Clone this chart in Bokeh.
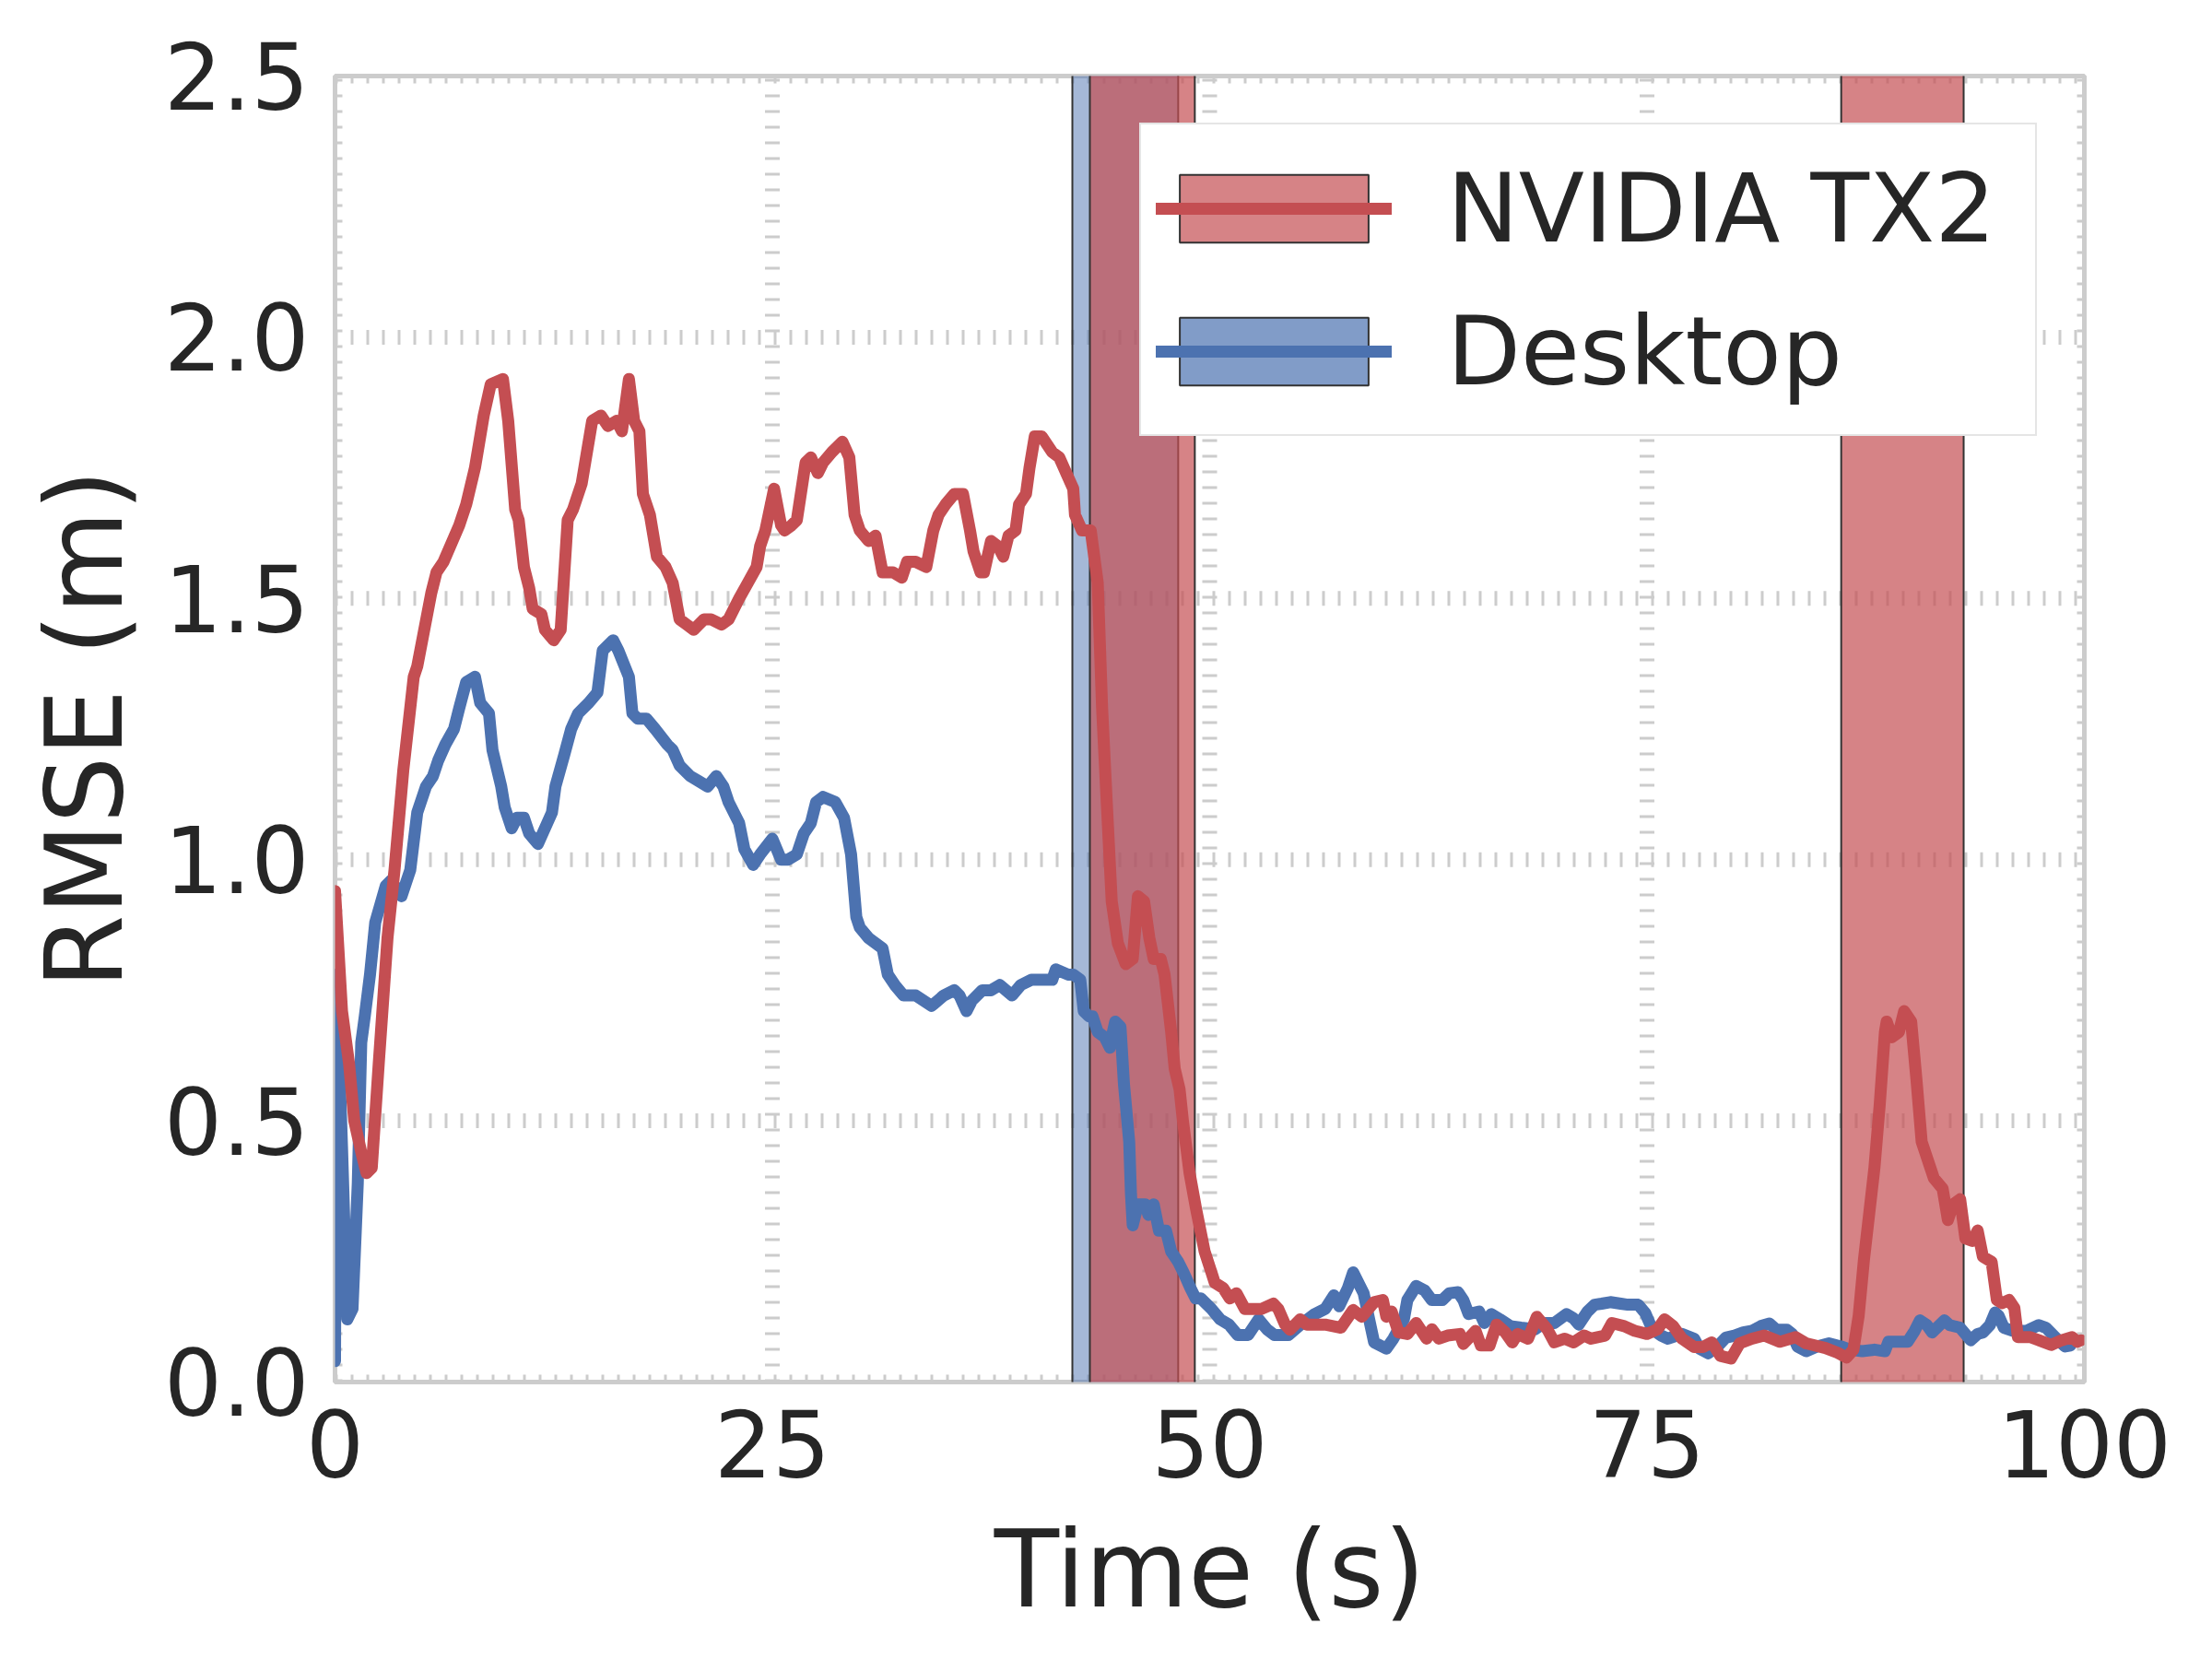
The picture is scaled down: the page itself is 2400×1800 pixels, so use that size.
from bokeh.plotting import figure
from bokeh.models import Range1d, FixedTicker, Legend, LegendItem, NumeralTickFormatter
from bokeh.embed import file_html
from bokeh.resources import INLINE

# ---------------- data ----------------
tx2_t = [0.0, 0.4, 0.8, 1.1, 1.5, 1.8, 2.1, 2.5, 3.0, 3.4, 3.9, 4.5, 4.7, 5.5, 5.8, 6.2, 7.1, 7.5, 8.0, 8.5,
         8.9, 9.6, 9.9, 10.3, 10.5, 10.8, 11.1, 11.3, 11.8, 12.0, 12.5, 12.9, 13.3, 13.6, 13.8, 14.1, 14.3, 14.7,
         15.2, 15.6, 16.1, 16.4, 16.8, 17.1, 17.4, 17.6, 18.0, 18.4, 18.9, 19.3, 19.7, 20.1, 20.5, 21.1, 21.5,
         22.1, 22.5, 23.1, 23.6, 24.1, 24.3, 24.6, 25.1, 25.5, 25.7, 26.1, 26.4, 26.9, 27.2, 27.6, 27.9, 28.4,
         29.0, 29.4, 29.7, 30.0, 30.5, 30.9, 31.3, 31.9, 32.4, 32.7, 33.2, 33.8, 34.2, 34.5, 34.9, 35.4, 35.9,
         36.3, 36.5, 36.9, 37.1, 37.5, 37.9, 38.2, 38.5, 38.9, 39.1, 39.5, 39.7, 40.0, 40.4, 41.0, 41.4, 41.8,
         42.2, 42.3, 42.7, 43.2, 43.6, 43.85, 44.1, 44.4, 44.75, 45.2, 45.6, 45.9, 46.25, 46.55, 46.8, 47.2,
         47.42, 47.8, 48.0, 48.28, 48.47, 48.85, 49.23, 49.71, 50.1, 50.29, 50.77, 51.15, 51.53, 52.01, 52.58,
         52.97, 53.64, 53.92, 54.31, 54.59, 55.17, 55.55, 56.03, 56.6, 57.5, 58.2, 58.7, 59.1, 59.4, 59.9, 60.1,
         60.4, 60.8, 61.3, 61.8, 62.4, 62.7, 63.1, 63.6, 64.3, 64.5, 65.2, 65.5, 66.0, 66.4, 66.9, 67.3, 67.6,
         68.2, 68.7, 69.3, 69.7, 70.3, 70.8, 71.4, 71.8, 72.6, 73.0, 73.7, 74.3, 75.0, 75.6, 76.0, 76.5, 77.0,
         77.7, 78.2, 78.7, 79.2, 79.8, 80.3, 81.0, 81.7, 82.6, 83.5, 84.1, 85.2, 85.9, 86.4, 86.8, 87.1, 87.4,
         87.7, 88.0, 88.3, 88.6, 88.7, 89.0, 89.4, 89.7, 90.1, 90.4, 90.7, 91.0, 91.2, 91.4, 91.9, 92.2, 92.5,
         92.9, 93.2, 93.6, 93.9, 94.2, 94.7, 95.0, 95.3, 95.7, 96.0, 96.2, 96.9, 97.4, 98.1, 98.7, 99.3, 99.6,
         99.8]
tx2_rmse = [0.94, 0.71, 0.61, 0.50, 0.44, 0.40, 0.41, 0.61, 0.85, 0.98, 1.17, 1.35, 1.37, 1.51, 1.55, 1.57, 1.64,
            1.68, 1.75, 1.85, 1.91, 1.92, 1.84, 1.67, 1.65, 1.56, 1.52, 1.48, 1.47, 1.44, 1.42, 1.44, 1.65, 1.67,
            1.69, 1.72, 1.76, 1.84, 1.85, 1.83, 1.84, 1.82, 1.92, 1.84, 1.82, 1.70, 1.66, 1.58, 1.56, 1.53, 1.46,
            1.45, 1.44, 1.46, 1.46, 1.45, 1.46, 1.50, 1.53, 1.56, 1.60, 1.63, 1.71, 1.64, 1.63, 1.64, 1.65, 1.76,
            1.77, 1.74, 1.76, 1.78, 1.80, 1.77, 1.66, 1.63, 1.61, 1.62, 1.55, 1.55, 1.54, 1.57, 1.57, 1.56, 1.63,
            1.66, 1.68, 1.70, 1.70, 1.63, 1.59, 1.55, 1.55, 1.61, 1.60, 1.58, 1.62, 1.63, 1.68, 1.70, 1.75, 1.81,
            1.81, 1.78, 1.77, 1.74, 1.71, 1.66, 1.63, 1.63, 1.53, 1.29, 1.12, 0.92, 0.84, 0.80, 0.81, 0.93, 0.92,
            0.85, 0.81, 0.81, 0.78, 0.67, 0.60, 0.56, 0.50, 0.40, 0.33, 0.25, 0.21, 0.19, 0.18, 0.16, 0.17, 0.14,
            0.14, 0.14, 0.15, 0.14, 0.11, 0.10, 0.12, 0.11, 0.11, 0.11, 0.104, 0.138, 0.125, 0.141, 0.153, 0.157,
            0.125, 0.135, 0.095, 0.092, 0.113, 0.083, 0.101, 0.083, 0.089, 0.092, 0.073, 0.098, 0.07, 0.07, 0.11,
            0.095, 0.076, 0.092, 0.083, 0.125, 0.101, 0.076, 0.083, 0.076, 0.089, 0.083, 0.089, 0.113, 0.107,
            0.098, 0.092, 0.101, 0.12, 0.107, 0.083, 0.067, 0.067, 0.076, 0.05, 0.045, 0.074, 0.083, 0.089, 0.077,
            0.086, 0.074, 0.065, 0.056, 0.047, 0.062, 0.127, 0.234, 0.322, 0.41, 0.53, 0.67, 0.69, 0.66, 0.67,
            0.71, 0.69, 0.58, 0.46, 0.43, 0.41, 0.39, 0.37, 0.31, 0.34, 0.35, 0.275, 0.27, 0.29, 0.24, 0.23,
            0.157, 0.151, 0.157, 0.142, 0.086, 0.086, 0.08, 0.071, 0.08, 0.086, 0.077, 0.08]

desk_t = [0.0, 0.08, 0.4, 0.7, 1.0, 1.3, 1.5, 1.7, 2.0, 2.3, 2.9, 3.2, 3.8, 4.3, 4.7, 5.2, 5.6, 5.9, 6.3, 6.8,
          7.1, 7.5, 8.0, 8.3, 8.8, 9.0, 9.5, 9.7, 10.1, 10.4, 10.8, 11.1, 11.6, 12.4, 12.6, 13.1, 13.5, 13.9,
          14.5, 15.0, 15.3, 15.9, 16.2, 16.8, 17.0, 17.3, 17.8, 18.3, 19.0, 19.3, 19.7, 20.3, 20.8, 21.3, 21.8,
          22.2, 22.5, 23.1, 23.4, 23.9, 24.3, 25.0, 25.5, 25.9, 26.4, 26.8, 27.2, 27.5, 27.9, 28.6, 29.1, 29.5,
          29.8, 30.0, 30.5, 31.3, 31.6, 32.0, 32.5, 33.2, 34.1, 34.8, 35.4, 35.7, 36.1, 36.4, 37.0, 37.5, 38.0,
          38.7, 39.2, 39.8, 40.4, 41.0, 41.2, 41.9, 42.2, 42.6, 42.8, 43.1, 43.3, 43.6, 44.0, 44.3, 44.4, 44.6,
          44.9, 45.1, 45.4, 45.5, 45.6, 45.9, 46.3, 46.5, 46.8, 47.1, 47.5, 47.8, 48.2, 48.5, 48.9, 49.2, 49.5,
          50.1, 50.6, 51.1, 51.6, 52.2, 52.8, 53.3, 53.7, 54.5, 55.2, 56.0, 56.6, 57.1, 57.4, 57.9, 58.2, 58.8,
          59.2, 59.4, 60.1, 60.5, 61.1, 61.3, 61.8, 62.3, 62.7, 63.3, 63.7, 64.2, 64.5, 64.8, 65.4, 65.7, 66.1,
          66.6, 67.2, 67.8, 68.6, 69.1, 69.7, 70.4, 70.8, 71.1, 71.6, 72.0, 72.4, 72.9, 73.5, 73.9, 74.5, 74.9,
          75.3, 75.8, 76.2, 77.0, 77.7, 78.0, 78.5, 79.0, 79.5, 80.0, 80.5, 81.0, 81.5, 82.0, 82.4, 83.0, 83.3,
          83.6, 84.1, 84.7, 85.4, 86.1, 86.6, 87.3, 88.0, 88.6, 88.8, 89.5, 89.9, 90.3, 90.6, 91.0, 91.3, 92.0,
          92.3, 92.9, 93.5, 93.9, 94.2, 94.6, 94.9, 95.1, 95.4, 95.9, 96.7, 97.4, 97.8, 98.5, 98.9, 99.2]
desk_rmse = [0.04, 0.78, 0.45, 0.12, 0.14, 0.38, 0.65, 0.70, 0.78, 0.88, 0.95, 0.96, 0.93, 0.98, 1.09, 1.14, 1.16,
             1.19, 1.22, 1.25, 1.29, 1.34, 1.35, 1.30, 1.28, 1.21, 1.14, 1.10, 1.06, 1.08, 1.08, 1.05, 1.03, 1.09,
             1.14, 1.20, 1.25, 1.28, 1.30, 1.32, 1.40, 1.42, 1.40, 1.35, 1.28, 1.27, 1.27, 1.25, 1.22, 1.21, 1.18,
             1.16, 1.15, 1.14, 1.16, 1.14, 1.11, 1.07, 1.02, 0.99, 1.01, 1.04, 1.00, 1.00, 1.01, 1.05, 1.07, 1.11,
             1.12, 1.11, 1.08, 1.01, 0.89, 0.87, 0.85, 0.83, 0.78, 0.76, 0.74, 0.74, 0.72, 0.74, 0.75, 0.74, 0.71,
             0.73, 0.75, 0.75, 0.76, 0.74, 0.76, 0.77, 0.77, 0.77, 0.79, 0.78, 0.78, 0.77, 0.71, 0.70, 0.70, 0.67,
             0.66, 0.64, 0.66, 0.69, 0.68, 0.57, 0.46, 0.36, 0.30, 0.34, 0.34, 0.32, 0.34, 0.29, 0.29, 0.25, 0.23,
             0.21, 0.18, 0.16, 0.16, 0.14, 0.12, 0.11, 0.09, 0.09, 0.12, 0.10, 0.09, 0.09, 0.11, 0.13, 0.14, 0.166,
             0.145, 0.18, 0.21, 0.17, 0.107, 0.076, 0.064, 0.083, 0.12, 0.157, 0.184, 0.175, 0.157, 0.157, 0.17,
             0.172, 0.157, 0.13, 0.135, 0.113, 0.13, 0.12, 0.107, 0.104, 0.101, 0.113, 0.113, 0.13, 0.122, 0.11,
             0.135, 0.148, 0.15, 0.153, 0.15, 0.148, 0.148, 0.132, 0.101, 0.089, 0.083, 0.092, 0.083, 0.064, 0.055,
             0.067, 0.085, 0.089, 0.095, 0.098, 0.107, 0.112, 0.10, 0.10, 0.092, 0.068, 0.059, 0.068, 0.074, 0.068,
             0.062, 0.059, 0.062, 0.059, 0.077, 0.077, 0.077, 0.098, 0.118, 0.109, 0.095, 0.118, 0.109, 0.104,
             0.08, 0.092, 0.095, 0.109, 0.133, 0.127, 0.104, 0.098, 0.098, 0.109, 0.104, 0.08, 0.068, 0.07]

tx2_span_start = [43.15, 86.1]
tx2_span_end = [49.15, 93.1]
desk_span_start = [42.15]
desk_span_end = [48.2]

x_ticks = [0, 25, 50, 75, 100]
y_ticks = [0.0, 0.5, 1.0, 1.5, 2.0, 2.5]
series_labels = ["NVIDIA TX2", "Desktop"]

RED = "#C44E52"
BLUE = "#4C72B0"
GRID = "#cccccc"
TEXT = "#262626"
FONT = "DejaVu Sans"

x0, x1 = x_ticks[0], x_ticks[-1]
y0, y1 = y_ticks[0], y_ticks[-1]

p = figure(frame_width=1898, frame_height=1417,
           x_range=Range1d(x0, x1), y_range=Range1d(y0, y1),
           output_backend="svg", toolbar_location=None,
           min_border_left=363, min_border_right=123, min_border_top=82, min_border_bottom=285,
           background_fill_color="white", border_fill_color="white")
p.outline_line_color = GRID
p.outline_line_width = 5
p.xgrid.visible = False
p.ygrid.visible = False

# dotted grid drawn as glyphs (clipped to the frame like matplotlib)
p.segment(x0=x_ticks, y0=[y0] * len(x_ticks), x1=x_ticks, y1=[y1] * len(x_ticks),
          line_color=GRID, line_width=16, line_dash="3 14")
p.segment(x0=[x0] * len(y_ticks), y0=y_ticks, x1=[x1] * len(y_ticks), y1=y_ticks,
          line_color=GRID, line_width=16, line_dash="3 14")

span_lo = y0 - (y1 - y0)
span_hi = y1 + (y1 - y0)
p.quad(left=desk_span_start, right=desk_span_end, bottom=[span_lo] * len(desk_span_start),
       top=[span_hi] * len(desk_span_start), fill_color=BLUE, fill_alpha=0.5,
       line_color="#333333", line_width=2)
red_spans = p.quad(left=tx2_span_start, right=tx2_span_end, bottom=[span_lo] * len(tx2_span_start),
                   top=[span_hi] * len(tx2_span_start), fill_color=RED, fill_alpha=0.7,
                   line_color="#333333", line_width=2)
# hidden copy of the desktop span with the legend's opacity (only used for the legend swatch)
blue_swatch = p.quad(left=desk_span_start, right=desk_span_end, bottom=[span_lo] * len(desk_span_start),
                     top=[span_hi] * len(desk_span_start), fill_color=BLUE, fill_alpha=0.7,
                     line_color="#333333", line_width=2, visible=False)

desk_line = p.line(desk_t, desk_rmse, line_color=BLUE, line_width=13, line_join="round", line_cap="round")
tx2_line = p.line(tx2_t, tx2_rmse, line_color=RED, line_width=13, line_join="round", line_cap="round")

legend = Legend(items=[LegendItem(label=series_labels[0], renderers=[red_spans, tx2_line]),
                       LegendItem(label=series_labels[1], renderers=[blue_swatch, desk_line])],
                location="top_right", margin=51, padding=16, spacing=6,
                glyph_width=256, glyph_height=92, label_standoff=60, label_width=622, label_height=149,
                label_text_font=FONT, label_text_font_size="104px", label_text_color=TEXT,
                border_line_color=GRID, border_line_width=2,
                background_fill_color="white", background_fill_alpha=1.0,
                inactive_fill_alpha=0.0)
p.add_layout(legend)

for ax in (p.xaxis[0], p.yaxis[0]):
    ax.axis_line_color = None
    ax.major_tick_line_color = None
    ax.minor_tick_line_color = None
    ax.major_tick_in = 0
    ax.major_tick_out = 0
    ax.minor_tick_in = 0
    ax.minor_tick_out = 0
    ax.major_label_text_font = FONT
    ax.major_label_text_font_size = "99px"
    ax.major_label_text_font_style = "normal"
    ax.major_label_text_color = TEXT
    ax.axis_label_text_font = FONT
    ax.axis_label_text_font_size = "115px"
    ax.axis_label_text_font_style = "normal"
    ax.axis_label_text_color = TEXT

p.xaxis.ticker = FixedTicker(ticks=x_ticks)
p.yaxis.ticker = FixedTicker(ticks=y_ticks)
p.yaxis.formatter = NumeralTickFormatter(format="0.0")
p.xaxis.axis_label = "Time (s)"
p.yaxis.axis_label = "RMSE (m)"
p.xaxis.major_label_standoff = 30
p.yaxis.major_label_standoff = 28
p.xaxis.axis_label_standoff = 30
p.yaxis.axis_label_standoff = 16

open("out.html", "w").write(file_html(p, INLINE))
